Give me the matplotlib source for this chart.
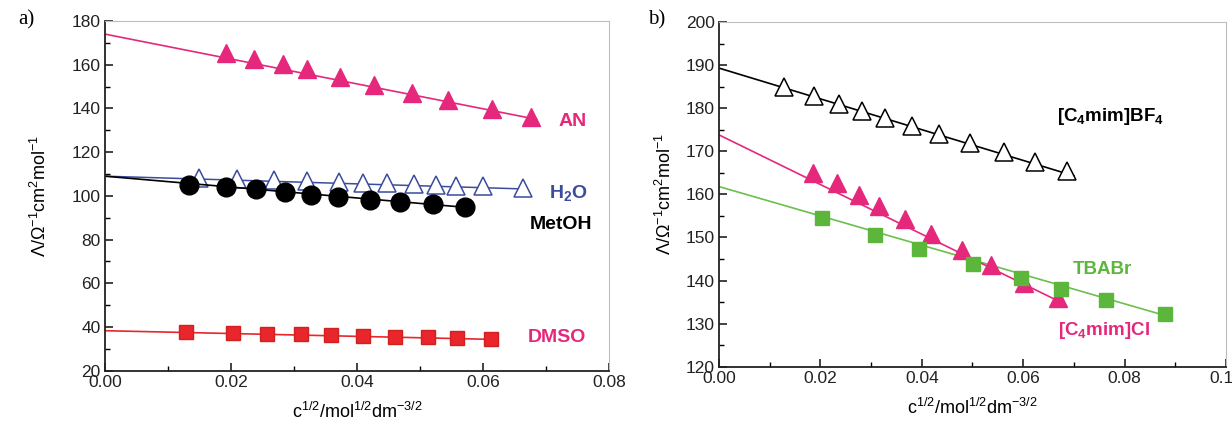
import numpy as np
import matplotlib
matplotlib.use('Agg')
import matplotlib.pyplot as plt
from matplotlib.ticker import MultipleLocator, FormatStrFormatter

plt.rcParams['font.family'] = ['Liberation Sans', 'DejaVu Sans']
plt.rcParams['mathtext.fontset'] = 'custom'
plt.rcParams['mathtext.rm'] = 'Liberation Sans'
plt.rcParams['mathtext.it'] = 'Liberation Sans:italic'
plt.rcParams['mathtext.bf'] = 'Liberation Sans:bold'
plt.rcParams['mathtext.default'] = 'regular'

# ---- panel a) data ----
an_x = [0.0192, 0.0236, 0.0282, 0.0320, 0.0373, 0.0427, 0.0488, 0.0545, 0.0614, 0.0676]
an_y = [165.5, 162.8, 160.3, 158.0, 154.5, 150.8, 147.1, 143.7, 139.8, 136.0]
an_fit_x = [0.0, 0.0685]
an_fit_y = [174.0, 135.0]

h2o_x = [0.0150, 0.0209, 0.0268, 0.0321, 0.0372, 0.0410, 0.0448, 0.0490, 0.0525, 0.0557, 0.0600, 0.0663]
h2o_y = [108.0, 107.6, 107.2, 106.8, 106.4, 106.0, 105.7, 105.3, 105.0, 104.7, 104.3, 103.6]
h2o_fit_x = [0.0, 0.066]
h2o_fit_y = [109.0, 103.2]

meoh_x = [0.0134, 0.0192, 0.0240, 0.0285, 0.0327, 0.0370, 0.0421, 0.0468, 0.0520, 0.0571]
meoh_y = [105.0, 104.0, 103.2, 101.6, 100.5, 99.3, 98.2, 97.0, 96.2, 95.0]
meoh_fit_x = [0.0, 0.057]
meoh_fit_y = [109.0, 94.8]

dmso_x = [0.0129, 0.0203, 0.0257, 0.0311, 0.0358, 0.0409, 0.0461, 0.0512, 0.0559, 0.0612]
dmso_y = [37.5, 37.2, 36.9, 36.6, 36.2, 35.9, 35.6, 35.2, 34.9, 34.5]
dmso_fit_x = [0.0, 0.062]
dmso_fit_y = [38.3, 34.3]

# ---- panel b) data ----
bf4_x = [0.0128, 0.0188, 0.0237, 0.0282, 0.0327, 0.0380, 0.0433, 0.0495, 0.0562, 0.0623, 0.0687]
bf4_y = [184.9, 182.9, 181.0, 179.3, 177.8, 175.9, 174.0, 171.9, 169.8, 167.6, 165.5]
bf4_fit_x = [0.0, 0.070]
bf4_fit_y = [189.3, 164.3]

cl_x = [0.0185, 0.0233, 0.0277, 0.0315, 0.0366, 0.0419, 0.0479, 0.0537, 0.0602, 0.0668]
cl_y = [165.0, 162.6, 159.9, 157.4, 154.2, 150.8, 147.0, 143.5, 139.5, 136.0]
cl_fit_x = [0.0, 0.067]
cl_fit_y = [173.8, 135.2]

tba_x = [0.0203, 0.0308, 0.0395, 0.0502, 0.0596, 0.0674, 0.0764, 0.0879]
tba_y = [154.4, 150.5, 147.3, 143.8, 140.6, 138.1, 135.4, 132.2]
tba_fit_x = [0.0, 0.0885]
tba_fit_y = [161.8, 131.7]

pink = '#e5287c'
red = '#e8262b'
blue = '#3b4c9e'
green = '#5cb63b'

fig = plt.figure(figsize=(12.32, 4.26), dpi=100)
ax1 = fig.add_axes([0.0852, 0.1298, 0.4091, 0.8209])
ax2 = fig.add_axes([0.5836, 0.1392, 0.4115, 0.8092])


def style_axes(ax, ypad):
    for s in ['top', 'right']:
        ax.spines[s].set_color('#bdbdbd')
        ax.spines[s].set_linewidth(0.8)
    for s in ['left', 'bottom']:
        ax.spines[s].set_color('#222222')
        ax.spines[s].set_linewidth(1.3)
    ax.tick_params(which='major', direction='in', length=6, width=1.2, labelsize=12.5,
                   top=False, right=False, pad=3, colors='#222222')
    ax.tick_params(which='minor', direction='in', length=3.5, width=1.0, top=False, right=False)
    ax.set_xlabel('c$^{1/2}$/mol$^{1/2}$dm$^{-3/2}$', fontsize=13, labelpad=9)
    ax.set_ylabel(r'$\mathit{Λ}$/Ω$^{-1}$cm$^{2}$mol$^{-1}$', fontsize=13, labelpad=ypad)


# panel a
ax1.plot(an_fit_x, an_fit_y, color=pink, lw=1.2)
ax1.plot(an_x, an_y, '^', color=pink, ms=13, mec=pink)
ax1.plot(h2o_fit_x, h2o_fit_y, color=blue, lw=1.1)
ax1.plot(h2o_x, h2o_y, '^', mfc='white', mec=blue, mew=1.1, ms=13)
ax1.plot(meoh_fit_x, meoh_fit_y, color='black', lw=1.2)
ax1.plot(meoh_x, meoh_y, 'o', color='black', ms=13.5)
ax1.plot(dmso_fit_x, dmso_fit_y, color=red, lw=1.2)
ax1.plot(dmso_x, dmso_y, 's', color=red, ms=10.5, mec='#d02020')

ax1.text(0.0743, 134, 'AN', color=pink, fontsize=14, fontweight='bold', ha='center', va='center')
ax1.text(0.0736, 101.5, 'H$_2$O', color=blue, fontsize=14, fontweight='bold', ha='center', va='center')
ax1.text(0.0724, 87, 'MetOH', color='black', fontsize=14, fontweight='bold', ha='center', va='center')
ax1.text(0.0717, 35, 'DMSO', color=pink, fontsize=14, fontweight='bold', ha='center', va='center')

ax1.set_xlim(0, 0.08)
ax1.set_ylim(20, 180)
ax1.xaxis.set_major_locator(MultipleLocator(0.02))
ax1.xaxis.set_minor_locator(MultipleLocator(0.01))
ax1.yaxis.set_major_locator(MultipleLocator(20))
ax1.yaxis.set_minor_locator(MultipleLocator(10))
ax1.xaxis.set_major_formatter(FormatStrFormatter('%.2f'))
style_axes(ax1, 16)

# panel b
ax2.plot(bf4_fit_x, bf4_fit_y, color='black', lw=1.2)
ax2.plot(bf4_x, bf4_y, '^', mfc='white', mec='black', mew=1.1, ms=13)
ax2.plot(tba_fit_x, tba_fit_y, color='#6cbf4c', lw=1.2)
ax2.plot(cl_fit_x, cl_fit_y, color=pink, lw=1.2)
ax2.plot(cl_x, cl_y, '^', color=pink, ms=13)
ax2.plot(tba_x, tba_y, 's', color=green, ms=10.5)

ax2.text(0.0772, 178, '[C$_4$mim]BF$_4$', color='black', fontsize=13.5, fontweight='bold', ha='center', va='center')
ax2.text(0.0757, 142.5, 'TBABr', color=green, fontsize=13.5, fontweight='bold', ha='center', va='center')
ax2.text(0.0760, 128.3, '[C$_4$mim]Cl', color=pink, fontsize=13.5, fontweight='bold', ha='center', va='center')

ax2.set_xlim(0, 0.10)
ax2.set_ylim(120, 200)
ax2.xaxis.set_major_locator(MultipleLocator(0.02))
ax2.xaxis.set_minor_locator(MultipleLocator(0.01))
ax2.yaxis.set_major_locator(MultipleLocator(10))
ax2.yaxis.set_minor_locator(MultipleLocator(5))
ax2.xaxis.set_major_formatter(FormatStrFormatter('%.2f'))
style_axes(ax2, 8)

fig.text(18 / 1232, 1 - 20 / 426, 'a)', family='Liberation Serif', fontsize=15, va='center')
fig.text(648 / 1232, 1 - 20 / 426, 'b)', family='Liberation Serif', fontsize=15, va='center')

fig.savefig('out.png', dpi=100)
